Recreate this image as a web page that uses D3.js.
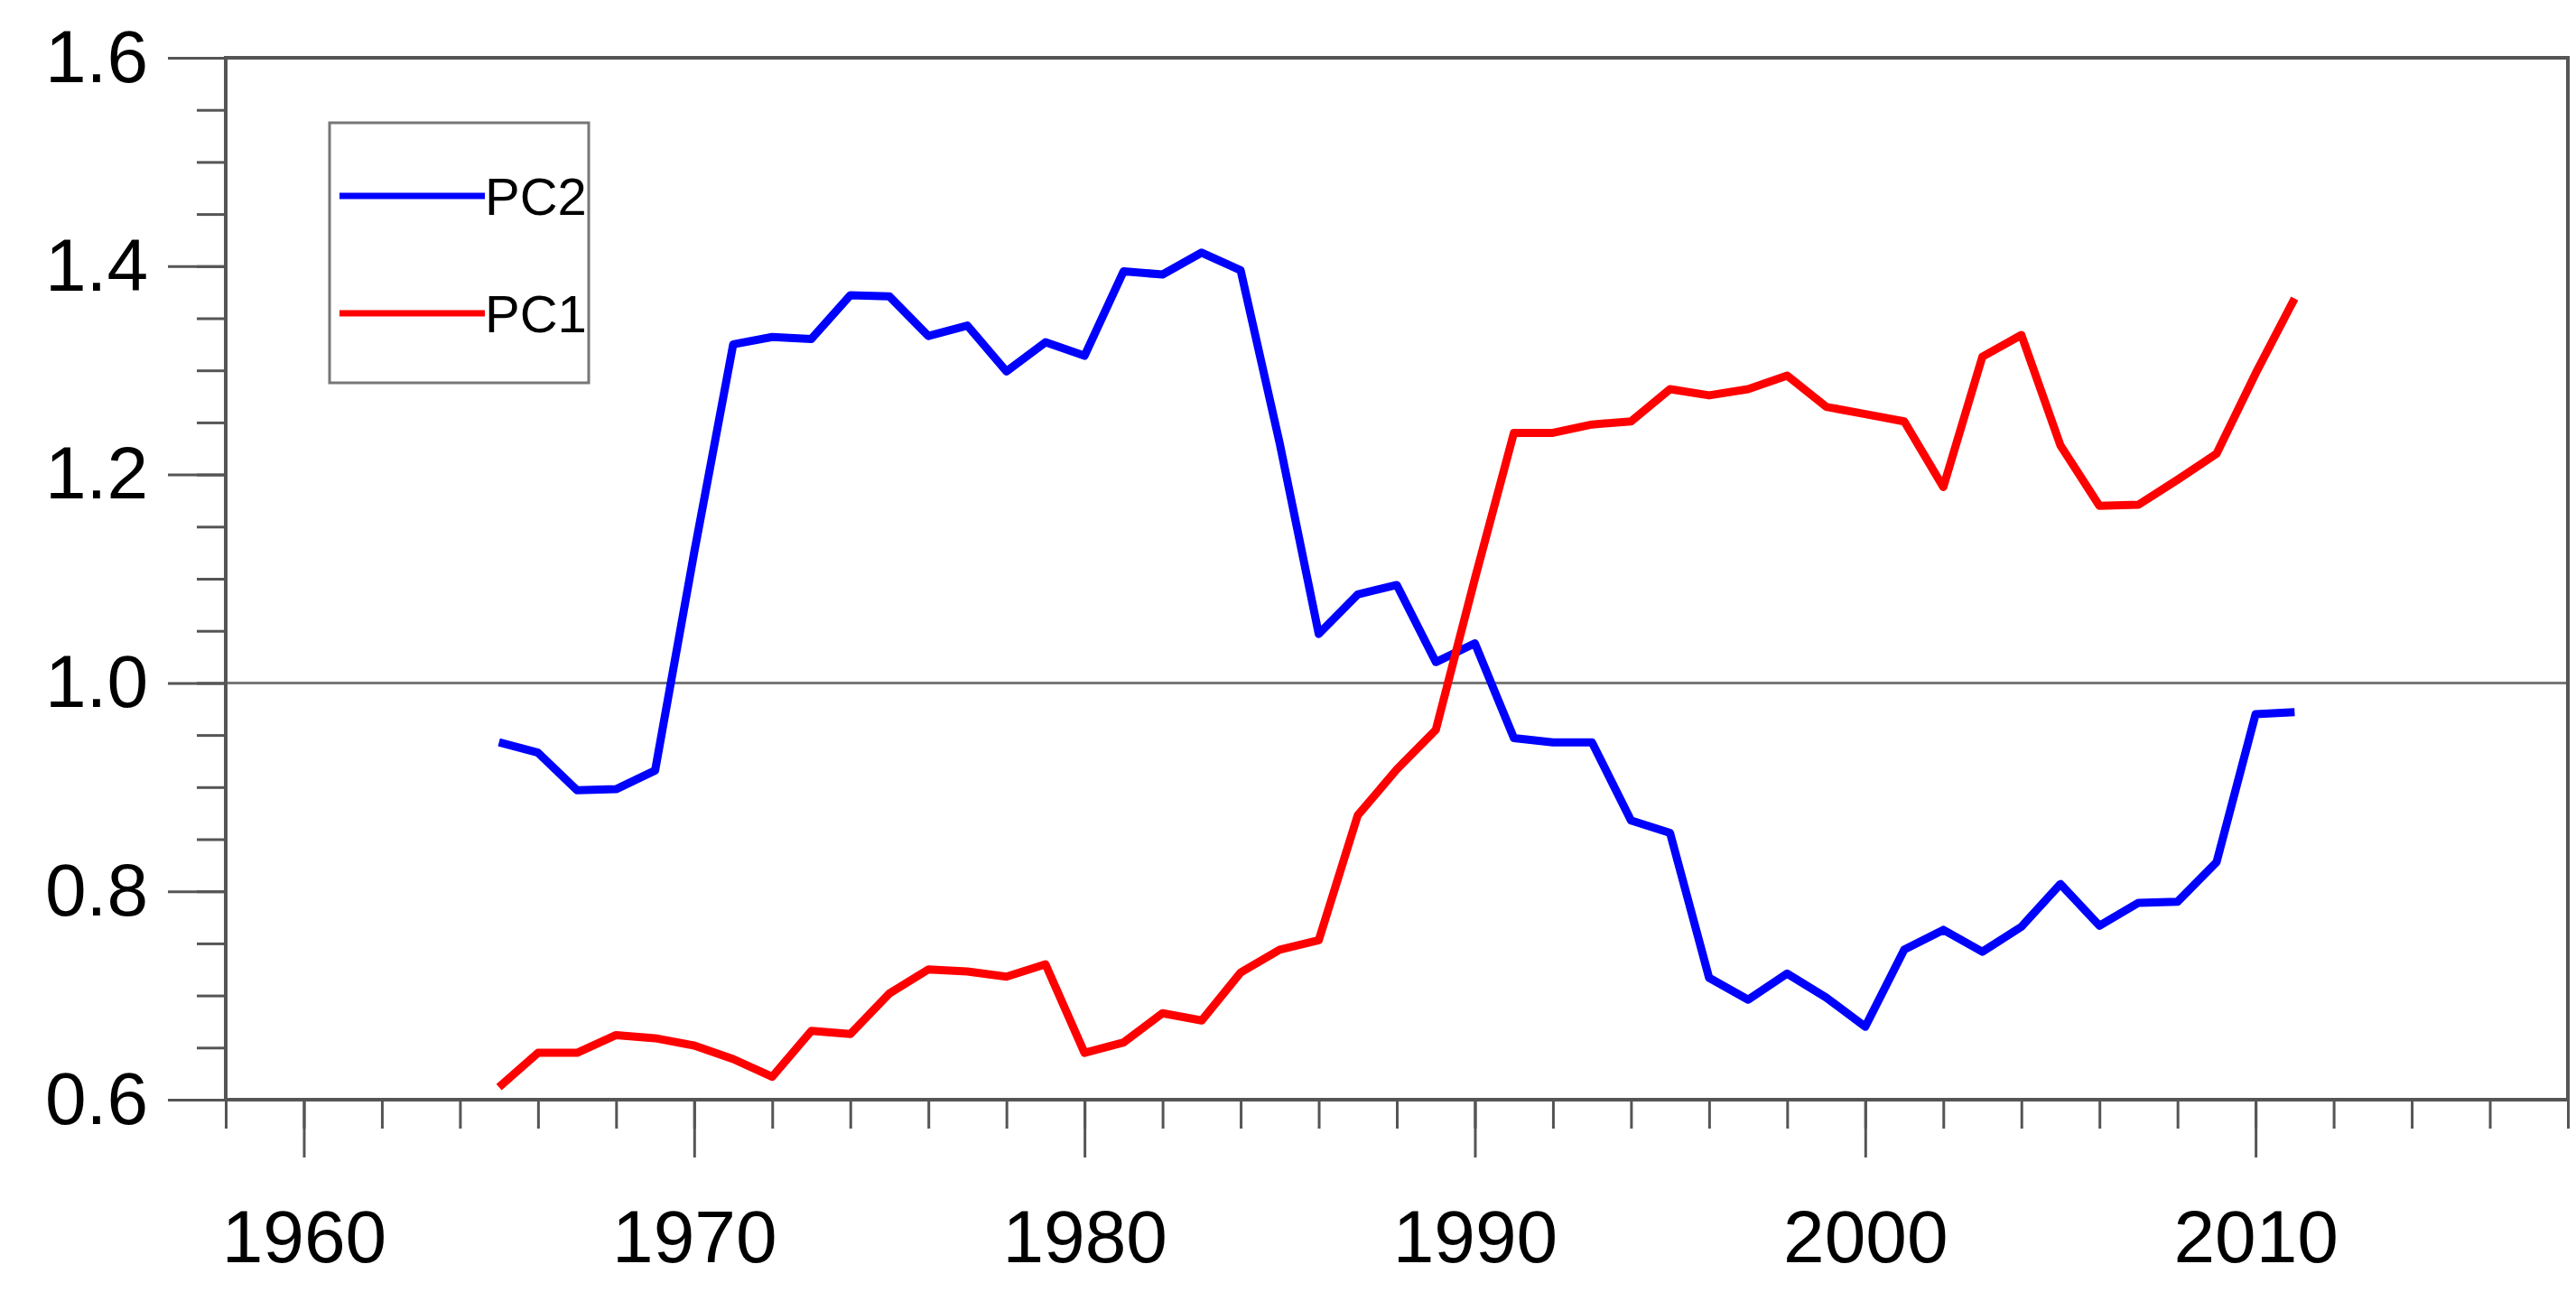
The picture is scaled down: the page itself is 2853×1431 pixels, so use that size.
<!DOCTYPE html>
<html><head><meta charset="utf-8">
<script src="https://cdn.jsdelivr.net/npm/d3@7"></script>
<style>body{margin:0;background:#fff}</style></head>
<body><svg id="c" width="2853" height="1431"></svg>
<script>
const years = d3.range(1965, 2012);
const pc2 = [0.943,0.933,0.897,0.898,0.916,1.125,1.325,1.332,1.330,1.372,1.371,1.333,1.343,1.299,1.327,1.314,1.395,1.392,1.413,1.396,1.230,1.047,1.085,1.094,1.020,1.038,0.947,0.943,0.943,0.868,0.856,0.717,0.696,0.721,0.698,0.670,0.744,0.763,0.742,0.766,0.807,0.767,0.789,0.790,0.828,0.970,0.972];
const pc1 = [0.612,0.645,0.645,0.662,0.659,0.652,0.639,0.622,0.666,0.663,0.702,0.725,0.723,0.718,0.730,0.645,0.655,0.683,0.676,0.722,0.744,0.753,0.873,0.917,0.955,1.100,1.240,1.240,1.248,1.251,1.282,1.276,1.282,1.295,1.265,1.258,1.251,1.188,1.313,1.334,1.228,1.170,1.171,1.195,1.220,1.297,1.369];
const xTicks = [1960,1970,1980,1990,2000,2010];
const yTicks = [0.6,0.8,1.0,1.2,1.4,1.6];

const L=250,R=2844,T=64,B=1218;
const svg=d3.select("#c");
const x=d3.scaleLinear().domain([1958,2018]).range([L,R]);
const y=d3.scaleLinear().domain([0.6,1.6]).range([B,T]);
const font="'Liberation Sans', Arial, sans-serif";
const axC="#555";

const gx=svg.append("g").attr("transform",`translate(0,${B})`)
 .call(d3.axisBottom(x).tickValues(d3.range(1958,2019,2)).tickSize(32).tickFormat(""));
const gx2=svg.append("g").attr("transform",`translate(0,${B})`)
 .call(d3.axisBottom(x).tickValues(xTicks).tickSize(64).tickPadding(58).tickFormat(d3.format("d")));
const gy=svg.append("g").attr("transform",`translate(${L},0)`)
 .call(d3.axisLeft(y).tickValues(d3.range(0,21).map(i=>0.6+i*0.05)).tickSize(32).tickFormat(""));
const gy2=svg.append("g").attr("transform",`translate(${L},0)`)
 .call(d3.axisLeft(y).tickValues(yTicks).tickSize(64).tickPadding(22).tickFormat(d3.format(".1f")));
[gx,gx2,gy,gy2].forEach(g=>{g.select(".domain").remove();
 g.selectAll("line").attr("stroke",axC).attr("stroke-width",3);
 g.selectAll("text").attr("font-family",font).attr("font-size",82).attr("fill","#000");});

svg.append("line").attr("x1",L).attr("x2",R).attr("y1",y(1)).attr("y2",y(1)).attr("stroke","#777").attr("stroke-width",3);

const line=d3.line().x((d,i)=>x(years[i])).y(d=>y(d));
svg.append("path").datum(pc2).attr("d",line).attr("fill","none").attr("stroke","#0000ff").attr("stroke-width",9).attr("stroke-linejoin","round");
svg.append("path").datum(pc1).attr("d",line).attr("fill","none").attr("stroke","#ff0000").attr("stroke-width",9).attr("stroke-linejoin","round");

svg.append("rect").attr("x",L).attr("y",T).attr("width",R-L).attr("height",B-T).attr("fill","none").attr("stroke",axC).attr("stroke-width",4);

svg.append("rect").attr("x",365).attr("y",136).attr("width",287).attr("height",288).attr("fill","none").attr("stroke","#777").attr("stroke-width",3);
const leg=[["PC2","#0000ff",217],["PC1","#ff0000",347]];
leg.forEach(([n,c,yy])=>{
 svg.append("line").attr("x1",376).attr("x2",537).attr("y1",yy).attr("y2",yy).attr("stroke",c).attr("stroke-width",7);
 svg.append("text").attr("x",537).attr("y",yy+21).attr("font-family",font).attr("font-size",58).text(n);
});
</script></body></html>
